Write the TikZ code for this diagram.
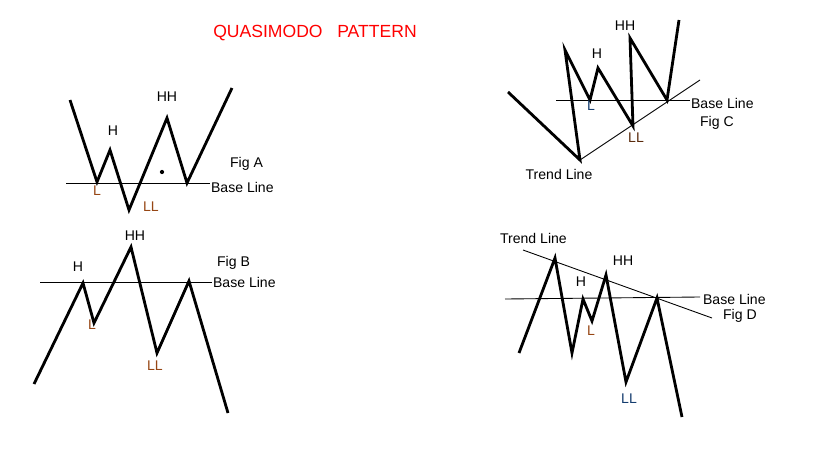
\documentclass[tikz,border=0pt]{standalone}
\usepackage{fontspec}
\setmainfont{Liberation Sans}
\definecolor{lblbrown}{RGB}{150,70,20}
\definecolor{lblblue}{RGB}{20,60,110}
\begin{document}
\begin{tikzpicture}[x=0.02cm, y=-0.02cm, every node/.style={font=\fontsize{8}{10}\selectfont, inner sep=1pt},
  wave/.style={line width=1.6pt, line join=miter},
  thin line/.style={line width=0.5pt}]
  \useasboundingbox (0,0) rectangle (819,460);
  % title
  \node[text=red, font=\fontsize{10}{12}\selectfont] (title) at (315,33) {QUASIMODO\ \ \ PATTERN};
  % Fig A
  \coordinate (a0) at (70,100); \coordinate (a1) at (97,182); \coordinate (a2) at (110,150);
  \coordinate (a3) at (129,210); \coordinate (a4) at (167,118); \coordinate (a5) at (187,183);
  \coordinate (a6) at (232,88);
  \draw[wave] (a0) -- (a1) -- (a2) -- (a3) -- (a4) -- (a5) -- (a6);
  \coordinate (abl) at (66,183); \coordinate (abr) at (210,183);
  \draw[thin line] (abl) -- (abr);
  \fill (162,172) circle (1.2pt);
  \node (aH) at (113,131) {H};
  \node (aHH) at (167,97) {HH};
  \node[text=lblbrown] (aL) at (97,191) {L};
  \node[text=lblbrown] (aLL) at (151,207) {LL};
  \node[anchor=west] (afig) at (228,164) {Fig A};
  \node[anchor=west] (abase) at (209,187) {Base Line};
  % Fig B
  \coordinate (b0) at (34,384); \coordinate (b1) at (83,283); \coordinate (b2) at (94,323);
  \coordinate (b3) at (131,247); \coordinate (b4) at (157,353); \coordinate (b5) at (189,281);
  \coordinate (b6) at (228,413);
  \draw[wave] (b0) -- (b1) -- (b2) -- (b3) -- (b4) -- (b5) -- (b6);
  \coordinate (bbl) at (40,282); \coordinate (bbr) at (212,282);
  \draw[thin line] (bbl) -- (bbr);
  \node (bH) at (78,267) {H};
  \node (bHH) at (135,236) {HH};
  \node[text=lblbrown] (bL) at (92,325) {L};
  \node[text=lblbrown] (bLL) at (155,366) {LL};
  \node[anchor=west] (bfig) at (215,263) {Fig B};
  \node[anchor=west] (bbase) at (211,282) {Base Line};
  % Fig C
  \coordinate (c0) at (508,92); \coordinate (c1) at (580,160); \coordinate (c2) at (565,50);
  \coordinate (c3) at (590,100); \coordinate (c4) at (598,68); \coordinate (c5) at (633,126);
  \coordinate (c6) at (630,38); \coordinate (c7) at (667,100); \coordinate (c8) at (679,20);
  \draw[wave] (c0) -- (c1) -- (c2) -- (c3) -- (c4) -- (c5) -- (c6) -- (c7) -- (c8);
  \coordinate (ctr) at (700,80);
  \draw[thin line] (c1) -- (ctr);
  \coordinate (cbl) at (556,100); \coordinate (cbr) at (690,100);
  \draw[thin line] (cbl) -- (cbr);
  \node (cHH) at (625,26) {HH};
  \node (cH) at (597,54) {H};
  \node[text=lblblue] (cL) at (591,106) {L};
  \node[text=lblbrown!60!black] (cLL) at (636,138) {LL};
  \node[anchor=west] (cbase) at (689,103) {Base Line};
  \node[anchor=west] (cfig) at (698,123) {Fig C};
  \node (ctrend) at (559,174) {Trend Line};
  % Fig D
  \coordinate (d0) at (519,353); \coordinate (d1) at (555,258); \coordinate (d2) at (572,353);
  \coordinate (d3) at (583,299); \coordinate (d4) at (592,321); \coordinate (d5) at (606,275);
  \coordinate (d6) at (626,382); \coordinate (d7) at (657,298); \coordinate (d8) at (682,417);
  \draw[wave] (d0) -- (d1) -- (d2) -- (d3) -- (d4) -- (d5) -- (d6) -- (d7) -- (d8);
  \coordinate (dbl) at (505,299); \coordinate (dbr) at (700,297);
  \draw[thin line] (dbl) -- (dbr);
  \coordinate (dtl) at (523,250); \coordinate (dtr) at (712,318);
  \draw[thin line] (dtl) -- (dtr);
  \node[anchor=west] (dtrend) at (498,238) {Trend Line};
  \node (dHH) at (623,261) {HH};
  \node (dH) at (581,282) {H};
  \node[text=lblbrown] (dL) at (591,331) {L};
  \node[text=lblblue] (dLL) at (629,399) {LL};
  \node[anchor=west] (dbase) at (701,299) {Base Line};
  \node[anchor=west] (dfig) at (721,316) {Fig D};
\end{tikzpicture}
\end{document}
